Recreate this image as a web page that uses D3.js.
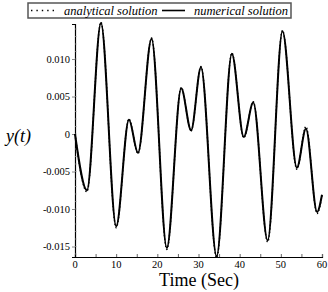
<!DOCTYPE html>
<html>
<head>
<meta charset="utf-8">
<script src="https://cdn.jsdelivr.net/npm/d3@7"></script>
<style>
  body { margin: 0; background: #fff; }
</style>
</head>
<body>
<div id="chart"></div>
<script>
// values (extrema of the response)
var times = [0, 2.9, 6.3, 10.0, 13.1, 15.3, 18.6, 22.3, 25.8, 28.2, 30.6, 34.4, 38.1, 41.0, 43.3, 46.8, 50.4, 53.9, 56.1, 58.8, 60];
var numerical = [0, -0.0075, 0.0148, -0.0123, 0.0019, -0.0025, 0.0127, -0.0152, 0.0061, 0.0005, 0.0089, -0.0163, 0.0107, -0.0004, 0.0042, -0.0142, 0.0137, -0.0045, 0.0007, -0.0104, -0.0081];
var analytical = [0, -0.0077, 0.0149, -0.0125, 0.0020, -0.0026, 0.0128, -0.0154, 0.0062, 0.0004, 0.0090, -0.0165, 0.0108, -0.0005, 0.0043, -0.0144, 0.0138, -0.0047, 0.0010, -0.0106, -0.0082];
var xTicks = [0, 10, 20, 30, 40, 50, 60];
var yTicks = [-0.015, -0.010, -0.005, 0, 0.005, 0.010];
var yTickLabels = ["-0.015", "-0.010", "-0.005", "0", "0.005", "0.010"];

var width = 328, height = 292;
var serif = "Liberation Serif, DejaVu Serif, serif";

var svg = d3.select("#chart").append("svg")
  .attr("width", width)
  .attr("height", height);

var x = d3.scaleLinear().domain([0, 60]).range([75, 322]);
var y = d3.scaleLinear().domain([-0.0164, 0.01467]).range([257, 24]);

// axes
var xAxis = svg.append("g")
  .attr("transform", "translate(0," + y.range()[0] + ")")
  .call(d3.axisBottom(x).tickValues(d3.range(0, 61, 5)).tickSize(-3).tickFormat(""));
xAxis.select(".domain").attr("stroke-width", 1.2);
xAxis.selectAll(".tick line").attr("stroke", "#666");

svg.selectAll(".xlab")
  .data(xTicks)
  .enter()
  .append("text")
  .attr("x", function (d) { return x(d); })
  .attr("y", 268)
  .attr("text-anchor", "middle")
  .attr("font-family", serif)
  .attr("font-size", 10.5)
  .text(function (d) { return d; });

var yAxis = svg.append("g")
  .attr("transform", "translate(" + x.range()[0] + ",0)")
  .call(d3.axisLeft(y).tickValues(yTicks).tickSize(3).tickFormat(function (d, i) { return yTickLabels[i]; }));
yAxis.attr("font-family", serif).attr("font-size", 10.5);
yAxis.select(".domain").attr("stroke-width", 1.2);
yAxis.selectAll(".tick line").attr("stroke", "#888");
yAxis.selectAll(".tick text").attr("x", -5);

// minor ticks on y axis
svg.selectAll(".ymin")
  .data(d3.range(-16, 15).map(function (d) { return d / 1000; }))
  .enter()
  .append("line")
  .attr("x1", x.range()[0])
  .attr("x2", x.range()[0] + 2)
  .attr("y1", function (d) { return y(d); })
  .attr("y2", function (d) { return y(d); })
  .attr("stroke", "#aaa")
  .attr("stroke-width", 0.6);

// curves
var line = d3.line()
  .x(function (d, i) { return x(times[i]); })
  .y(function (d) { return y(d); })
  .curve(d3.curveMonotoneX);

svg.append("path")
  .datum(numerical)
  .attr("d", line)
  .attr("fill", "none")
  .attr("stroke", "#000")
  .attr("stroke-width", 2);

svg.append("path")
  .datum(analytical)
  .attr("d", line)
  .attr("fill", "none")
  .attr("stroke", "#000")
  .attr("stroke-width", 1.4)
  .attr("stroke-dasharray", "1.4,2.2");

// axis titles
svg.append("text")
  .attr("x", 6)
  .attr("y", 142)
  .attr("font-family", serif)
  .attr("font-size", 18)
  .attr("font-style", "italic")
  .text("y(t)");

svg.append("text")
  .attr("x", 199)
  .attr("y", 286)
  .attr("text-anchor", "middle")
  .attr("font-family", serif)
  .attr("font-size", 18)
  .text("Time (Sec)");

// legend
var legend = svg.append("g")
  .attr("font-family", serif)
  .attr("font-size", 12.5)
  .attr("font-style", "italic");
legend.append("rect")
  .attr("x", 28).attr("y", 3)
  .attr("width", 263).attr("height", 15)
  .attr("fill", "#fff")
  .attr("stroke", "#555")
  .attr("stroke-width", 1.5);
legend.append("line")
  .attr("x1", 31).attr("x2", 56)
  .attr("y1", 10.5).attr("y2", 10.5)
  .attr("stroke", "#000")
  .attr("stroke-width", 1.4)
  .attr("stroke-dasharray", "1.4,4");
legend.append("text")
  .attr("x", 64).attr("y", 14.5)
  .text("analytical solution");
legend.append("line")
  .attr("x1", 162).attr("x2", 185)
  .attr("y1", 10.5).attr("y2", 10.5)
  .attr("stroke", "#000")
  .attr("stroke-width", 1.6);
legend.append("text")
  .attr("x", 194).attr("y", 14.5)
  .text("numerical solution");
</script>
</body>
</html>
